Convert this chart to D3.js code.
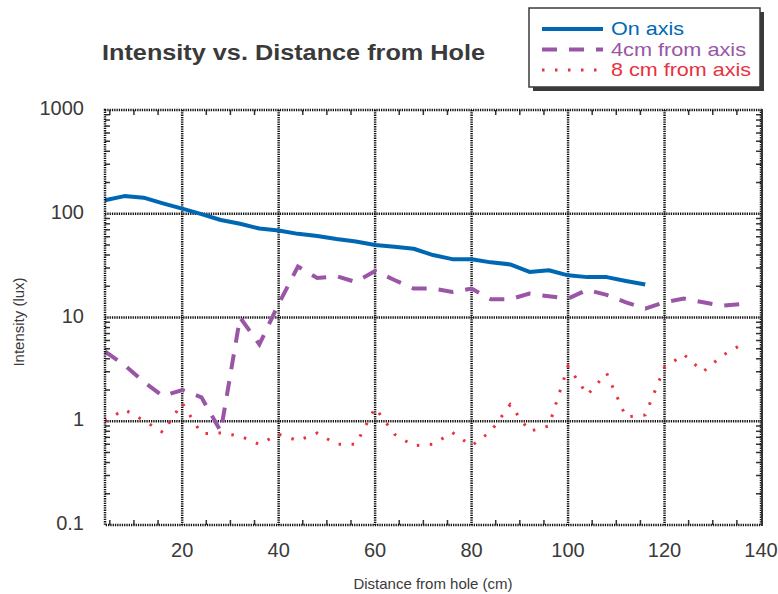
<!DOCTYPE html>
<html>
<head>
<meta charset="utf-8">
<script src="https://cdn.jsdelivr.net/npm/d3@7"></script>
<style>
  body { margin: 0; background: #fff; }
  svg text { font-family: "Liberation Sans", Arial, sans-serif; fill: #3a3a3a; }
</style>
</head>
<body>
<div id="chart"></div>
<script>
// distance from hole (cm)
const distOn = [4, 8, 12, 16, 20, 24, 28, 32, 36, 40, 44, 48, 52, 56, 60, 64, 68, 72, 76, 80,
                84, 88, 92, 96, 100, 104, 108, 112, 116];
const distOff = [4, 8, 12, 16, 20, 24, 28, 32, 36, 40, 44, 48, 52, 56, 60, 64, 68, 72, 76, 80,
                 84, 88, 92, 96, 100, 104, 108, 112, 116, 120, 124, 128, 132, 136];

// intensity (lux)
const onAxis = [135, 148, 143, 126, 112, 99, 87, 80, 72, 69, 64, 61, 57, 54, 50, 48, 46, 40, 36.5, 36.5,
                34, 32.5, 27.5, 28.5, 25.5, 24.5, 24.5, 22.5, 20.8];
const cm4 = [4.7, 3.5, 2.4, 1.75, 2.0, 1.7, 0.8, 10, 5.5, 13.5, 31, 24, 25, 22, 28, 23, 19, 19, 17.6, 19,
             15, 15, 17, 16, 15.2, 18.5, 16.5, 14, 12.2, 14, 15.2, 14, 13, 13.5];
const cm8 = [1.0, 1.3, 1.02, 0.78, 1.5, 0.76, 0.77, 0.72, 0.6, 0.75, 0.65, 0.77, 0.6, 0.6, 1.35, 0.75, 0.58, 0.6, 0.78, 0.58,
             0.8, 1.45, 0.8, 0.9, 3.4, 1.8, 2.9, 1.1, 1.15, 3.3, 4.4, 3.0, 4.3, 5.5];

const xTicks = [20, 40, 60, 80, 100, 120, 140];
const yTicks = [0.1, 1, 10, 100, 1000];
const yTickLabels = ["0.1", "1", "10", "100", "1000"];

const seriesNames = ["On axis", "4cm from axis", "8 cm from axis"];
const seriesColors = ["#0068b3", "#9a55a6", "#e8323f"];

const W = 778, H = 594;
const m = { left: 105, right: 761, top: 110, bottom: 525 };

const svg = d3.select("#chart").append("svg")
  .attr("width", W).attr("height", H);

const x = d3.scaleLinear().domain([4, 140]).range([m.left, m.right]);
const y = d3.scaleLog().domain([0.1, 1000]).range([m.bottom, m.top]);

// grid
const grid = svg.append("g").attr("stroke", "#111").attr("stroke-width", 2.5)
  .attr("stroke-dasharray", "1.3,1");
grid.selectAll("line.v").data(xTicks.filter(d => d < 140)).enter().append("line")
  .attr("x1", d => x(d)).attr("x2", d => x(d))
  .attr("y1", m.top).attr("y2", m.bottom);
grid.selectAll("line.h").data(yTicks.filter(d => d > 0.1 && d < 1000)).enter().append("line")
  .attr("y1", d => y(d)).attr("y2", d => y(d))
  .attr("x1", m.left).attr("x2", m.right);

// minor ticks
const minorX = d3.range(5, 140, 5).filter(d => d % 20 != 0);
const minorY = [];
[0.1, 1, 10, 100].forEach(dec => {
  for (let k = 2; k < 10; k++) minorY.push(dec * k);
});
const ticks = svg.append("g").attr("stroke", "#333").attr("stroke-width", 1.5);
minorX.forEach(d => {
  ticks.append("line").attr("x1", x(d)).attr("x2", x(d)).attr("y1", m.top).attr("y2", m.top + 5);
  ticks.append("line").attr("x1", x(d)).attr("x2", x(d)).attr("y1", m.bottom).attr("y2", m.bottom - 5);
});
minorY.forEach(d => {
  ticks.append("line").attr("y1", y(d)).attr("y2", y(d)).attr("x1", m.left).attr("x2", m.left + 5);
  ticks.append("line").attr("y1", y(d)).attr("y2", y(d)).attr("x1", m.right).attr("x2", m.right - 5);
});

// series lines
const line = d3.line().x(d => x(d[0])).y(d => y(d[1]));
const zip = (xs, ys) => xs.map((d, i) => [d, ys[i]]);

svg.append("path").datum(zip(distOff, cm8))
  .attr("d", line).attr("fill", "none")
  .attr("stroke", seriesColors[2]).attr("stroke-width", 3)
  .attr("stroke-dasharray", "2.5,10.5");

svg.append("path").datum(zip(distOff, cm4))
  .attr("d", line).attr("fill", "none")
  .attr("stroke", seriesColors[1]).attr("stroke-width", 4)
  .attr("stroke-dasharray", "15,12");

svg.append("path").datum(zip(distOn, onAxis))
  .attr("d", line).attr("fill", "none")
  .attr("stroke", seriesColors[0]).attr("stroke-width", 4)
  .attr("stroke-linejoin", "round");

// frame
svg.append("rect")
  .attr("x", m.left).attr("y", m.top)
  .attr("width", m.right - m.left).attr("height", m.bottom - m.top)
  .attr("fill", "none").attr("stroke", "#111").attr("stroke-width", 2.5)
  .attr("stroke-dasharray", "1.3,1");
svg.append("line").attr("x1", m.right + 1).attr("x2", m.right + 1)
  .attr("y1", m.top - 1).attr("y2", m.bottom + 1)
  .attr("stroke", "#333").attr("stroke-width", 2);

// axis labels
svg.append("g").selectAll("text").data(yTicks).enter().append("text")
  .attr("x", 84).attr("y", d => y(d) + 5)
  .attr("text-anchor", "end").attr("font-size", 20)
  .text((d, i) => yTickLabels[i]);

svg.append("g").selectAll("text").data(xTicks).enter().append("text")
  .attr("x", d => x(d)).attr("y", 557)
  .attr("text-anchor", "middle").attr("font-size", 20)
  .text(d => d);

svg.append("text")
  .attr("x", 433).attr("y", 589)
  .attr("text-anchor", "middle").attr("font-size", 15)
  .text("Distance from hole (cm)");

svg.append("text")
  .attr("transform", "translate(24,322) rotate(-90)")
  .attr("text-anchor", "middle").attr("font-size", 15)
  .text("Intensity (lux)");

// title
svg.append("text")
  .attr("x", 102).attr("y", 60)
  .attr("font-size", 22).attr("font-weight", "bold")
  .attr("textLength", 383).attr("lengthAdjust", "spacingAndGlyphs")
  .text("Intensity vs. Distance from Hole");

// legend
const lg = svg.append("g");
lg.append("rect").attr("x", 533).attr("y", 12).attr("width", 231).attr("height", 79)
  .attr("fill", "#3a3a3a");
lg.append("rect").attr("x", 529).attr("y", 8).attr("width", 231).attr("height", 79)
  .attr("fill", "#fff").attr("stroke", "#3a3a3a").attr("stroke-width", 1.5);
const legDash = ["none", "15,12", "2.5,10.5"];
const legW = [4, 4, 3];
const legLen = [73, 135, 140];
seriesNames.forEach((name, i) => {
  const ly = 29 + i * 20.5;
  lg.append("line").attr("x1", 542).attr("x2", 603).attr("y1", ly).attr("y2", ly)
    .attr("stroke", seriesColors[i]).attr("stroke-width", legW[i])
    .attr("stroke-dasharray", legDash[i]);
  lg.append("text").attr("x", 611).attr("y", ly + 6)
    .attr("font-size", 19).style("fill", seriesColors[i])
    .attr("textLength", legLen[i]).attr("lengthAdjust", "spacingAndGlyphs")
    .text(name);
});
</script>
</body>
</html>
